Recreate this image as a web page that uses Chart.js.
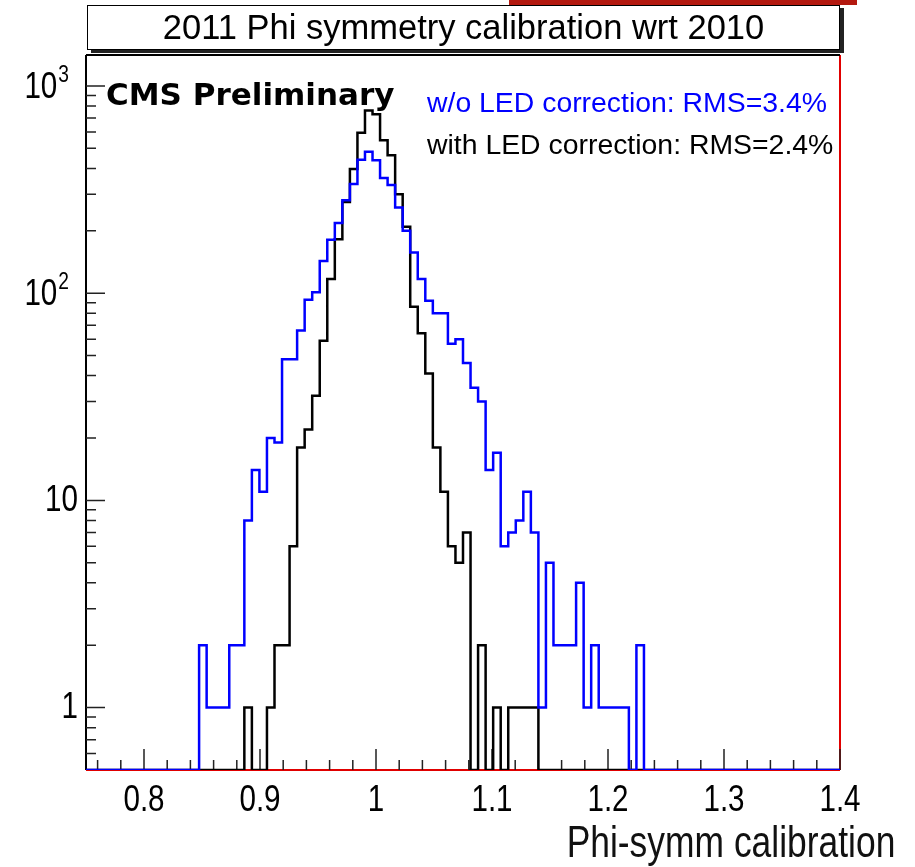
<!DOCTYPE html>
<html>
<head>
<meta charset="utf-8">
<script src="https://cdn.jsdelivr.net/npm/chart.js@4.4.1/dist/chart.umd.min.js"></script>
<style>
  html, body { margin: 0; padding: 0; background: #fff; }
  #wrap { position: relative; width: 915px; height: 867px; overflow: hidden; }
  #c { position: absolute; left: 0; top: 0; }
  .t { position: absolute; white-space: nowrap; line-height: 1; font-family: 'Liberation Sans', Arial, sans-serif; }
  #bar { position: absolute; left: 509px; top: 0; width: 348px; height: 5px; background: #b3190f; }
  #titlebox {
    position: absolute; left: 87px; top: 5px; width: 753px; height: 45px; box-sizing: border-box;
    border: 1.5px solid #000; background: #fff; box-shadow: 4px 3px 0 #222;
    display: flex; align-items: center; justify-content: center;
    font-family: 'Liberation Sans', Arial, sans-serif; font-size: 34.5px; color: #000; white-space: nowrap;
  }
  #titlebox span { display: inline-block; transform: scaleY(1.04); }
  #cms { left: 106px; top: 79px; font-family: 'DejaVu Sans', sans-serif; font-weight: bold; font-size: 31px; color: #000; }
  #leg1 { left: 427px; top: 88px; font-size: 28.4px; color: #0000ff; }
  #leg2 { left: 427px; top: 130px; font-size: 28.4px; color: #000; }
  #xtitle { right: 20px; top: 820px; font-size: 44px; color: #111; transform: scaleX(0.805); transform-origin: right center; filter: blur(0.6px); }
</style>
</head>
<body>
<div id="wrap">
  <canvas id="c" width="915" height="867"></canvas>
  <div id="bar"></div>
  <div id="titlebox"><span>2011 Phi symmetry calibration wrt 2010</span></div>
  <div class="t" id="cms">CMS Preliminary</div>
  <div class="t" id="leg1">w/o LED correction: RMS=3.4%</div>
  <div class="t" id="leg2">with LED correction: RMS=2.4%</div>
  <div class="t" id="xtitle">Phi-symm calibration</div>
</div>
<script>
// Histogram binning: 100 bins between 0.75 and 1.4
const X_LO = 0.75;
const X_HI = 1.4;
const N_BINS = 100;

// Bin contents, without LED correction (blue)
const countsWithoutLed = [
  0, 0, 0, 0, 0, 0, 0, 0, 0, 0,
  0, 0, 0, 0, 0, 2, 1, 1, 1, 2,
  2, 8, 14, 11, 20, 19, 48, 48, 66, 93,
  101, 143, 181, 218, 281, 336, 440, 481, 438, 359,
  333, 259, 200, 157, 117, 92, 80, 80, 57, 60,
  46, 35, 30, 14, 17, 6, 7, 8, 11, 7,
  1, 5, 2, 2, 2, 4, 1, 2, 1, 1,
  1, 1, 0, 2, 0, 0, 0, 0, 0, 0,
  0, 0, 0, 0, 0, 0, 0, 0, 0, 0,
  0, 0, 0, 0, 0, 0, 0, 0, 0, 0
];

// Bin contents, with LED correction (black)
const countsWithLed = [
  0, 0, 0, 0, 0, 0, 0, 0, 0, 0,
  0, 0, 0, 0, 0, 0, 0, 0, 0, 0,
  0, 1, 0, 0, 1, 2, 2, 6, 18, 22,
  32, 59, 117, 182, 275, 397, 595, 760, 730, 547,
  463, 300, 209, 86, 64, 41, 18, 11, 6, 5,
  7, 0, 2, 0, 1, 0, 1, 1, 1, 1,
  0, 0, 0, 0, 0, 0, 0, 0, 0, 0,
  0, 0, 0, 0, 0, 0, 0, 0, 0, 0,
  0, 0, 0, 0, 0, 0, 0, 0, 0, 0,
  0, 0, 0, 0, 0, 0, 0, 0, 0, 0
];

// Axis ranges and tick labels
const Y_MIN = 0.5;
const Y_MAX = 1410;
const X_LABEL_TICKS = [0.8, 0.9, 1, 1.1, 1.2, 1.3, 1.4];
const X_MINOR_STEP = 0.02;
const Y_LABEL_TICKS = [1, 10, 100, 1000];
// mantissa text and exponent text of each decade label
const Y_LABEL_BASE = { 1: '1', 10: '10', 100: '10', 1000: '10' };
const Y_LABEL_EXP = { 1: '', 10: '', 100: '2', 1000: '3' };

const BIN_W = (X_HI - X_LO) / N_BINS;
const LABEL_FAMILY = "'Liberation Sans', Arial, sans-serif";
const LABEL_SIZE = 37;
const LABEL_SQUEEZE = 0.8;

// Left bin edges carry the bin content; empty bins sit on the axis floor
function stepPoints(counts) {
  const pts = counts.map((c, k) => ({ x: X_LO + k * BIN_W, y: c > 0 ? c : Y_MIN }));
  pts.push({ x: X_HI, y: pts[pts.length - 1].y });
  return pts;
}

function yMinorTicks() {
  const out = [];
  for (let m = 6; m <= 9; m++) out.push(m / 10);
  for (let d = 1; d <= 100; d *= 10) {
    for (let m = 2; m <= 9; m++) out.push(m * d);
  }
  return out;
}

// narrow-set text, anchored by its right edge or centre
function squeezedText(ctx, text, x, y, size, align) {
  ctx.save();
  ctx.font = size + 'px ' + LABEL_FAMILY;
  ctx.textBaseline = 'middle';
  ctx.textAlign = align;
  ctx.translate(x, y);
  ctx.scale(LABEL_SQUEEZE, 1);
  ctx.fillText(text, 0, 0);
  const w = ctx.measureText(text).width * LABEL_SQUEEZE;
  ctx.restore();
  return w;
}

// Frame, axis lines and inward tick marks
const framePlugin = {
  id: 'frame',
  beforeDatasetsDraw(chart) {
    const { ctx, chartArea: a, scales: { x, y } } = chart;
    ctx.save();
    ctx.lineCap = 'butt';
    ctx.strokeStyle = '#e00000';
    ctx.lineWidth = 2;
    ctx.beginPath();
    ctx.moveTo(a.left, a.bottom); ctx.lineTo(a.right, a.bottom);
    ctx.moveTo(a.right, a.bottom); ctx.lineTo(a.right, a.top);
    ctx.stroke();
    ctx.strokeStyle = '#000';
    ctx.beginPath();
    ctx.moveTo(a.left, a.top); ctx.lineTo(a.right, a.top);
    ctx.moveTo(a.left, a.top); ctx.lineTo(a.left, a.bottom);
    ctx.stroke();

    ctx.strokeStyle = '#222';
    ctx.lineWidth = 1.5;
    ctx.beginPath();
    for (let v = X_LO + 0.01; v < X_HI + 1e-9; v += X_MINOR_STEP) {
      const px = x.getPixelForValue(v);
      const major = X_LABEL_TICKS.some(t => Math.abs(t - v) < 1e-6);
      ctx.moveTo(px, a.bottom);
      ctx.lineTo(px, a.bottom - (major ? 21 : 10));
    }
    Y_LABEL_TICKS.forEach(v => {
      const py = y.getPixelForValue(v);
      ctx.moveTo(a.left, py); ctx.lineTo(a.left + 19, py);
    });
    yMinorTicks().forEach(v => {
      const py = y.getPixelForValue(v);
      ctx.moveTo(a.left, py); ctx.lineTo(a.left + 10, py);
    });
    ctx.stroke();
    ctx.restore();
  },
  afterDraw(chart) {
    const { ctx, chartArea: a, scales: { x, y } } = chart;
    ctx.save();
    ctx.fillStyle = '#000';
    X_LABEL_TICKS.forEach(v => {
      squeezedText(ctx, String(v), x.getPixelForValue(v), a.bottom + 31, LABEL_SIZE, 'center');
    });
    Y_LABEL_TICKS.forEach(v => {
      const py = y.getPixelForValue(v);
      const exp = Y_LABEL_EXP[v];
      if (exp) {
        const ew = squeezedText(ctx, exp, 69, py - 11, 24, 'right');
        squeezedText(ctx, Y_LABEL_BASE[v], 69 - ew - 1, py + 2, LABEL_SIZE, 'right');
      } else {
        squeezedText(ctx, Y_LABEL_BASE[v], 78, py, LABEL_SIZE, 'right');
      }
    });
    ctx.restore();
  }
};

new Chart(document.getElementById('c'), {
  type: 'line',
  data: {
    datasets: [
      {
        label: 'w/o LED correction',
        data: stepPoints(countsWithoutLed),
        borderColor: '#0000ff',
        borderWidth: 2.5,
        stepped: 'before',
        pointRadius: 0,
        fill: false
      },
      {
        label: 'with LED correction',
        data: stepPoints(countsWithLed),
        borderColor: '#000000',
        borderWidth: 2.5,
        stepped: 'before',
        pointRadius: 0,
        fill: false
      }
    ]
  },
  options: {
    responsive: false,
    animation: false,
    devicePixelRatio: 1,
    layout: { padding: { top: 55, right: 75, left: 0, bottom: 0 } },
    plugins: {
      legend: { display: false },
      tooltip: { enabled: false },
      title: { display: false }
    },
    scales: {
      x: {
        type: 'linear',
        min: X_LO,
        max: X_HI,
        afterFit(s) { s.height = 97; },
        afterBuildTicks(s) { s.ticks = X_LABEL_TICKS.map(v => ({ value: v })); },
        grid: { display: false, drawTicks: false },
        border: { display: false },
        ticks: { display: false }
      },
      y: {
        type: 'logarithmic',
        min: Y_MIN,
        max: Y_MAX,
        afterFit(s) { s.width = 86; },
        afterBuildTicks(s) { s.ticks = Y_LABEL_TICKS.map(v => ({ value: v })); },
        grid: { display: false, drawTicks: false },
        border: { display: false },
        ticks: { display: false }
      }
    }
  },
  plugins: [framePlugin]
});
</script>
</body>
</html>
